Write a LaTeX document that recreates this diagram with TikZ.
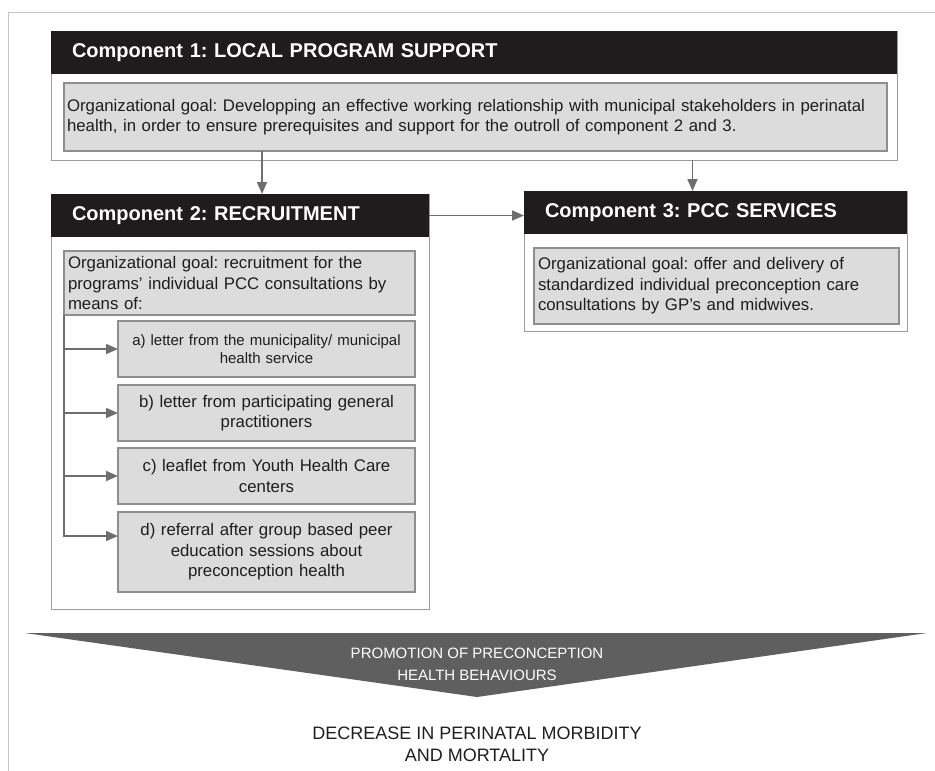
\documentclass[tikz,border=0pt]{standalone}
\usepackage{fontspec}
\setmainfont{Liberation Sans}
\usetikzlibrary{arrows.meta,positioning}

\definecolor{headblack}{HTML}{1F1C1D}
\definecolor{goalfill}{HTML}{DCDCDC}
\definecolor{goalgray}{HTML}{8E8E8E}
\definecolor{framegray}{HTML}{9C9C9C}
\definecolor{linkgray}{HTML}{6E6E6E}
\definecolor{pagegray}{HTML}{C4C4C4}
\definecolor{chevron}{HTML}{5F5F5F}
\definecolor{ink}{HTML}{1E1E1E}

\newcommand{\headfont}{\fontsize{20}{24}\selectfont\bfseries}
\newcommand{\bodyfont}{\fontsize{16.8}{20.5}\selectfont}
\frenchspacing

\begin{document}
\begin{tikzpicture}[x=1pt,y=-1pt,>={Triangle[length=12pt,width=10pt]},
    every node/.style={outer sep=0pt}]
\tikzstyle{frame}=[draw=framegray, fill=white, line width=1pt, anchor=north west, inner sep=0pt]
\tikzstyle{head}=[fill=headblack, text=white, font=\headfont, anchor=north west,
    minimum height=43pt, inner xsep=21pt, inner ysep=0pt, align=left]
\tikzstyle{goal}=[draw=goalgray, fill=goalfill, line width=1.2pt, text=ink, font=\bodyfont,
    inner xsep=4pt, inner ysep=0pt, align=left]
\tikzstyle{means}=[goal, align=center, minimum height=56pt, text width=289pt]
\tikzstyle{link}=[->, draw=linkgray, line width=1.8pt]

\useasboundingbox (0,0) rectangle (935,771);
\draw[pagegray, line width=1pt] (8,771) -- (8,12) -- (935,12);

% component 1
\node[frame, minimum width=846pt, minimum height=129pt] (f1) at (51,31) {};
\node[head, text width=804pt] (h1) at (f1.north west) {Component 1: LOCAL PROGRAM SUPPORT};
\node[goal, inner xsep=3pt, text width=817pt, minimum height=68pt]
    (g1) [below right=9pt and 13pt of h1.south west]
    {Organizational goal: Developping an effective working relationship with municipal stakeholders in perinatal\\
     health, in order to ensure prerequisites and support for the outroll of component 2 and 3.};

% component 2
\node[frame, minimum width=378pt, minimum height=415pt] (f2) at (51,194) {};
\node[head, text width=336pt] (h2) at (f2.north west) {Component 2: RECRUITMENT};
\node[goal, text width=343pt, minimum height=64pt]
    (g2) [below right=14pt and 13pt of h2.south west]
    {Organizational goal: recruitment for the\\programs’ individual PCC consultations by\\means of:};

\node[means, font=\fontsize{15}{18}\selectfont]
    (a) [below right=6pt and 54pt of g2.south west]
    {a) letter from the municipality/ municipal\\health service};
\node[means] (b) [below=8pt of a] {b) letter from participating general\\practitioners};
\node[means] (c) [below=7pt of b] {c) leaflet from Youth Health Care\\centers};
\node[means, minimum height=80pt] (d) [below=8pt of c]
    {d) referral after group based peer\\education sessions about\\preconception health};
\coordinate (dIn) at ([yshift=-24pt]d.north west);

% component 3
\node[frame, minimum width=383pt, minimum height=140pt] (f3) at (524,191) {};
\node[head, text width=341pt] (h3) at (f3.north west) {Component 3: PCC SERVICES};
\node[goal, text width=357pt, minimum height=76pt]
    (g3) [below right=14pt and 10pt of h3.south west]
    {Organizational goal: offer and delivery of\\standardized individual preconception care\\consultations by GP’s and midwives.};

% links between components
\coordinate (in2) at ([xshift=22pt]h2.north);
\coordinate (in3) at ([xshift=-23pt]h3.north);
\draw[link] (g1.south -| in2) -- (in2);
\draw[link] (f1.south -| in3) -- (in3);
\draw[link] (h2.east) -- (h2.east -| h3.west);

% recruitment channels
\draw[link] (g2.south west) |- (dIn);
\draw[link] (g2.south west |- a.west) -- (a.west);
\draw[link] (g2.south west |- b.west) -- (b.west);
\draw[link] (g2.south west |- c.west) -- (c.west);

% outcome
\fill[chevron] (25,633) -- (927,633) -- (477,697) -- cycle;
\node[text=white, font=\fontsize{15}{22}\selectfont, align=center] (promo) at (477,664)
    {PROMOTION OF PRECONCEPTION\\HEALTH BEHAVIOURS};
\node[text=ink, font=\fontsize{18}{22}\selectfont, align=center] (result) at (477,744)
    {DECREASE IN PERINATAL MORBIDITY\\AND MORTALITY};
\end{tikzpicture}
\end{document}
